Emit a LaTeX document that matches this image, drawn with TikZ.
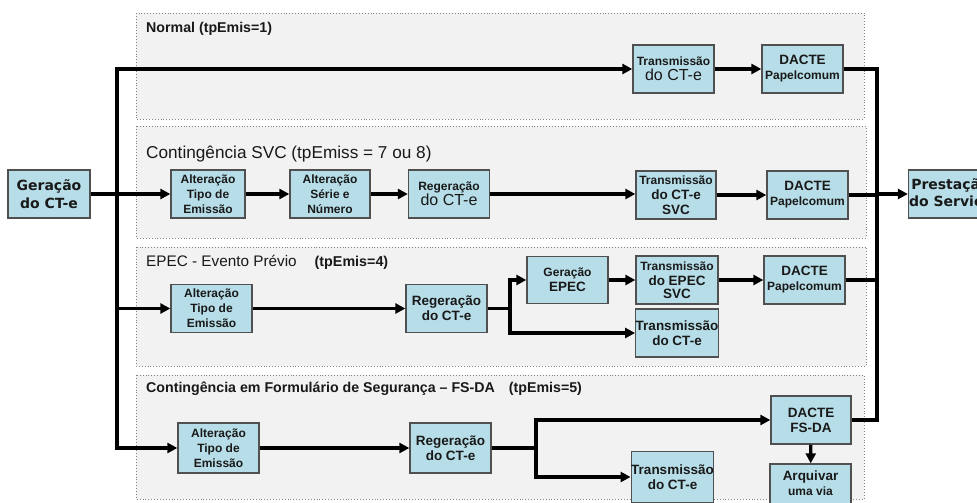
\documentclass[tikz,border=0pt]{standalone}
\usepackage{fontspec}
\setmainfont{Liberation Sans}
\newfontfamily\widefont{DejaVu Sans}
\usepackage{xcolor}
\usetikzlibrary{arrows.meta, positioning}

\definecolor{boxfill}{RGB}{183,222,232}
\definecolor{boxline}{RGB}{80,80,80}
\definecolor{panelfill}{RGB}{242,242,242}
\definecolor{paneldots}{RGB}{130,130,130}
\definecolor{txt}{RGB}{25,25,25}

\newcommand{\txsm}{\fontsize{12}{15}\selectfont}
\newcommand{\txmd}{\fontsize{13.5}{16}\selectfont}
\newcommand{\txlg}{\fontsize{16}{18}\selectfont}

\begin{document}
\begin{tikzpicture}[
    x=1pt, y=-1pt,
    box/.style={rectangle, draw=boxline, fill=boxfill, line width=1.3pt, minimum width=81pt, minimum height=48pt, inner sep=0pt, align=center, text=txt, font=\bfseries\txsm},
    endbox/.style={box, font=\widefont\bfseries\fontsize{14}{17.5}\selectfont},
    panel/.style={draw=paneldots, dotted, line width=0.9pt, fill=panelfill},
    title/.style={anchor=base west, inner sep=0pt, text=txt},
    link/.style={line width=3.2pt, color=black},
    arrow/.style={link, -{Triangle[length=10pt,width=10pt]}}
]
\clip (0,0) rectangle (977,503);
\fill[white] (0,0) rectangle (977,503);

% panels
\draw[panel] (136,13) rectangle (864,119);
\draw[panel] (136,126) rectangle (866,238);
\draw[panel] (136,247) rectangle (866,366);
\draw[panel] (136,375) rectangle (864,499);

\node[title, font=\bfseries\fontsize{14.2}{16}\selectfont] (titN) at (146,33) {Normal (tpEmis=1)};
\node[title, font=\fontsize{17.2}{19}\selectfont] (titS) at (146,158) {Contingência SVC (tpEmiss = 7 ou 8)};
\node[title, font=\fontsize{15.3}{17}\selectfont] (titE) at (146,266) {EPEC - Evento Prévio\hspace{18pt}{\bfseries\fontsize{14.3}{16}\selectfont(tpEmis=4)}};
\node[title, font=\bfseries\fontsize{14.2}{16}\selectfont] (titF) at (146,392) {Contingência em Formulário de Segurança – FS-DA\hspace{14pt}(tpEmis=5)};

% start / end
\node[endbox, minimum width=82pt] (gCT) at (49,194) {Geração\\do CT-e};
\node[endbox, minimum width=84pt] (prest) at (950.5,194) {Prestação\\do Serviço};

% Normal
\node[box] (nTr) at (673.5,69) {Transmissão\\{\txlg\mdseries do CT-e}};
\node[box] (nDac) at (802.5,69) {{\txmd DACTE}\\Papelcomum};

% SVC
\node[box, minimum width=74pt] (sAlt) at (208,194) {Alteração\\Tipo de\\Emissão};
\node[box, minimum width=80pt] (sSer) at (330,194) {Alteração\\Série e\\Número};
\node[box] (sReg) at (449,194) {Regeração\\{\txlg\mdseries do CT-e}};
\node[box, minimum width=80pt] (sTr) at (676,195) {Transmissão\\{\txmd do CT-e}\\{\txmd SVC}};
\node[box] (sDac) at (807.5,195) {{\txmd DACTE}\\Papelcomum};

% EPEC
\node[box] (eAlt) at (211.5,308.5) {Alteração\\Tipo de\\Emissão};
\node[box] (eReg) at (446.5,308.5) {{\txmd Regeração}\\{\txmd do CT-e}};
\node[box, minimum height=47pt] (eGer) at (567.5,280) {Geração\\{\txmd EPEC}};
\node[box, minimum width=82pt] (eTr) at (677,280) {Transmissão\\{\txmd do EPEC}\\[-2pt]{\txmd SVC}};
\node[box] (eDac) at (804.5,280) {{\txmd DACTE}\\Papelcomum};
\node[box, minimum width=82pt] (eTc) at (677,333) {{\txmd Transmissão}\\{\txmd do CT-e}};

% FS-DA
\node[box, minimum height=50pt] (fAlt) at (218.5,448) {Alteração\\Tipo de\\Emissão};
\node[box, minimum height=50pt] (fReg) at (450.5,448) {{\txmd Regeração}\\{\txmd do CT-e}};
\node[box, minimum width=80pt] (fDac) at (811,420) {{\txmd DACTE}\\{\txmd FS-DA}};
\node[box, minimum height=51pt] (fTr) at (672.5,477) {{\txmd Transmissão}\\{\txmd do CT-e}};
\node[box, minimum height=50pt, text depth=12pt] (fArq) at (810.5,489) {{\txmd Arquivar}\\uma via};

% trunks
\coordinate (ltop) at (117,69);
\coordinate (lbot) at (117,448);
\coordinate (rx) at (877,200);
\coordinate (eBr) at (510,308.5);
\coordinate (fBr) at (536,448);

\draw[arrow] (lbot) -- (ltop) -- (nTr);
\draw[arrow] (ltop) -- (lbot) -- (fAlt);
\draw[arrow] (gCT) -- (sAlt);
\draw[arrow] (ltop |- eAlt) -- (eAlt);

\draw[arrow] (nTr) -- (nDac);
\draw[arrow] (sAlt) -- (sSer);
\draw[arrow] (sSer) -- (sReg);
\draw[arrow] (sReg.east) -- (sReg.east -| sTr.west);
\draw[arrow] (sTr) -- (sDac);

\draw[arrow] (eAlt) -- (eReg);
\draw[arrow] (eReg) -- (eBr) |- (eGer);
\draw[arrow] (eBr) |- (eTc);
\draw[arrow] (eGer) -- (eTr);
\draw[arrow] (eTr) -- (eDac);

\draw[arrow] (fAlt) -- (fReg);
\draw[arrow] (fReg) -- (fBr) |- (fDac);
\draw[arrow] (fBr) |- (fTr);
\draw[arrow] (fDac) -- (fArq);

\draw[link] (nDac.east) -| (rx) |- (fDac.east);
\draw[link] (sDac.east) -- (sDac.east -| rx);
\draw[link] (eDac.east) -- (eDac.east -| rx);
\draw[arrow] (rx |- prest) -- (prest);
\end{tikzpicture}
\end{document}
